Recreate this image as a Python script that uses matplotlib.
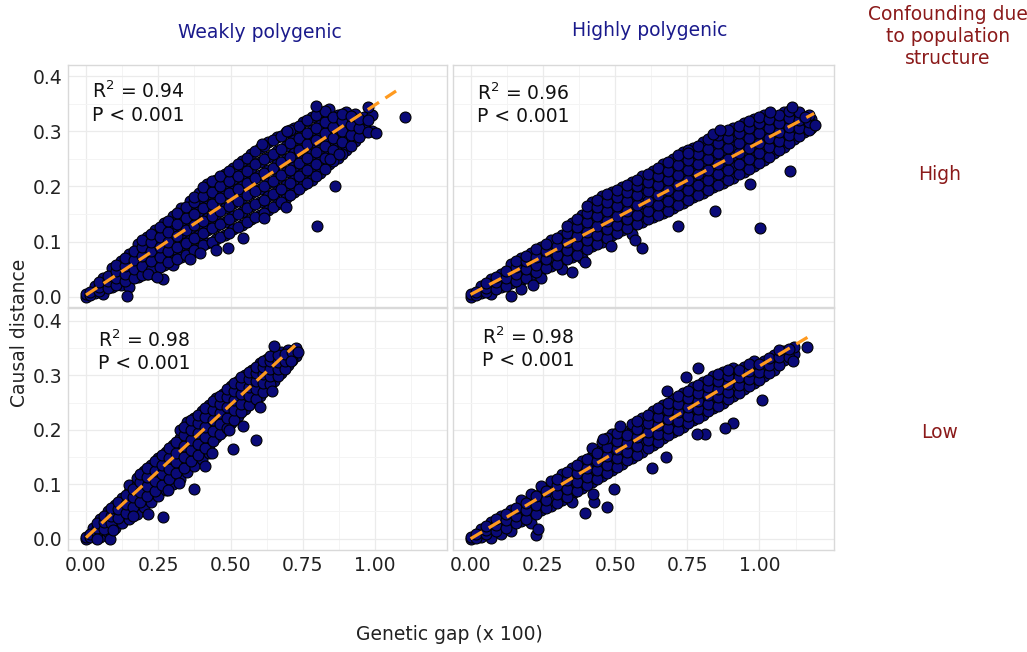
import matplotlib
matplotlib.use("Agg")
import matplotlib.pyplot as plt
import numpy as np

plt.rcParams['font.family'] = ['DejaVu Sans']
plt.rcParams['mathtext.default'] = 'regular'

# ---- data ----
# each panel: columns of the dense band (x, list of y), a second set of columns
# lying between them, and the stray points

# weakly polygenic, high confounding
tl_col_x = [0.00, 0.03, 0.06, 0.09, 0.12, 0.15, 0.18, 0.21, 0.24, 0.27, 0.30, 0.33,
            0.36, 0.39, 0.42, 0.45, 0.48, 0.51, 0.54, 0.57, 0.60, 0.63, 0.66, 0.69,
            0.72, 0.75, 0.78, 0.81, 0.84, 0.87, 0.90, 0.93, 0.96, 0.99]
tl_col_y = [[0.000, 0.004], [0.006, 0.014, 0.020], [0.012, 0.022, 0.034, 0.004],
            [0.017, 0.030, 0.041, 0.052], [0.022, 0.036, 0.050, 0.064],
            [0.030, 0.046, 0.060, 0.078, 0.018], [0.036, 0.054, 0.070, 0.088, 0.095],
            [0.042, 0.060, 0.078, 0.094, 0.108], [0.050, 0.068, 0.086, 0.104, 0.120, 0.040],
            [0.058, 0.078, 0.096, 0.114, 0.134], [0.066, 0.086, 0.106, 0.126, 0.146, 0.058],
            [0.072, 0.094, 0.116, 0.138, 0.160], [0.080, 0.102, 0.124, 0.146, 0.168, 0.174],
            [0.088, 0.112, 0.134, 0.156, 0.178, 0.188], [0.098, 0.120, 0.142, 0.164, 0.186, 0.204],
            [0.104, 0.128, 0.150, 0.172, 0.196, 0.212], [0.112, 0.136, 0.160, 0.184, 0.206, 0.222],
            [0.122, 0.146, 0.170, 0.192, 0.214, 0.234], [0.130, 0.154, 0.178, 0.200, 0.222, 0.246],
            [0.140, 0.164, 0.188, 0.210, 0.234, 0.258], [0.148, 0.172, 0.196, 0.220, 0.244, 0.270],
            [0.158, 0.182, 0.206, 0.230, 0.254, 0.280], [0.168, 0.192, 0.216, 0.240, 0.264, 0.290],
            [0.178, 0.202, 0.226, 0.250, 0.274, 0.298], [0.190, 0.212, 0.236, 0.260, 0.284, 0.306],
            [0.202, 0.224, 0.248, 0.270, 0.292, 0.316], [0.212, 0.236, 0.258, 0.280, 0.302, 0.326],
            [0.224, 0.246, 0.268, 0.290, 0.312, 0.334], [0.240, 0.260, 0.282, 0.302, 0.322, 0.340],
            [0.252, 0.274, 0.294, 0.314, 0.330], [0.266, 0.288, 0.306, 0.324, 0.334],
            [0.282, 0.302, 0.318, 0.332], [0.298, 0.312, 0.326], [0.300, 0.330]]
tl_mid_x = [0.015, 0.045, 0.075, 0.105, 0.135, 0.165, 0.195, 0.225, 0.255, 0.285, 0.315,
            0.345, 0.375, 0.405, 0.435, 0.465, 0.495, 0.525, 0.555, 0.585, 0.615, 0.645,
            0.675, 0.705, 0.735, 0.765, 0.795, 0.825, 0.855, 0.885, 0.915, 0.945, 0.975]
tl_mid_y = [[0.003, 0.009], [0.010, 0.018, 0.026], [0.016, 0.028, 0.038],
            [0.022, 0.034, 0.046, 0.058], [0.028, 0.042, 0.056, 0.070],
            [0.034, 0.050, 0.066, 0.082], [0.040, 0.056, 0.074, 0.090, 0.102],
            [0.048, 0.064, 0.082, 0.100, 0.114], [0.054, 0.072, 0.090, 0.108, 0.126],
            [0.062, 0.082, 0.100, 0.118, 0.138], [0.068, 0.090, 0.110, 0.132, 0.152],
            [0.076, 0.098, 0.120, 0.142, 0.162], [0.084, 0.106, 0.130, 0.150, 0.172, 0.180],
            [0.094, 0.116, 0.138, 0.160, 0.182, 0.198], [0.100, 0.124, 0.146, 0.168, 0.190, 0.210],
            [0.108, 0.132, 0.156, 0.178, 0.200, 0.218], [0.116, 0.140, 0.164, 0.188, 0.210, 0.228],
            [0.126, 0.150, 0.174, 0.196, 0.218, 0.240], [0.136, 0.160, 0.184, 0.206, 0.228, 0.252],
            [0.144, 0.168, 0.192, 0.216, 0.240, 0.264], [0.152, 0.176, 0.200, 0.224, 0.250, 0.274],
            [0.162, 0.186, 0.210, 0.234, 0.258, 0.284], [0.172, 0.196, 0.220, 0.244, 0.268, 0.292],
            [0.184, 0.206, 0.230, 0.254, 0.278, 0.302], [0.196, 0.218, 0.242, 0.266, 0.288, 0.310],
            [0.206, 0.230, 0.252, 0.276, 0.296, 0.320], [0.218, 0.240, 0.262, 0.284, 0.306, 0.330],
            [0.232, 0.252, 0.274, 0.296, 0.316, 0.336], [0.246, 0.266, 0.288, 0.308, 0.326],
            [0.258, 0.280, 0.300, 0.318, 0.332], [0.274, 0.294, 0.312, 0.328],
            [0.290, 0.306, 0.322], [0.298, 0.320]]
tl_out_x = [1.103, 0.798, 0.861, 0.794, 1.003, 0.974, 0.360, 0.492, 0.542, 0.267, 0.143,
            0.692, 0.616, 0.610, 0.696, 0.843, 0.875, 0.394, 0.449, 0.215, 0.245]
tl_out_y = [0.325, 0.129, 0.201, 0.346, 0.297, 0.343, 0.068, 0.089, 0.106, 0.032, 0.001,
            0.162, 0.142, 0.277, 0.300, 0.250, 0.258, 0.080, 0.085, 0.042, 0.036]

# highly polygenic, high confounding
tr_col_x = [0.000, 0.035, 0.070, 0.105, 0.140, 0.175, 0.210, 0.245, 0.280, 0.315, 0.350,
            0.385, 0.420, 0.455, 0.490, 0.525, 0.560, 0.595, 0.630, 0.665, 0.700, 0.735,
            0.770, 0.805, 0.840, 0.875, 0.910, 0.945, 0.980, 1.015, 1.050, 1.085, 1.120,
            1.155, 1.180]
tr_col_y = [[0.000, 0.004], [0.006, 0.013, 0.020], [0.012, 0.022, 0.032, 0.004],
            [0.018, 0.030, 0.042], [0.024, 0.038, 0.050, 0.060],
            [0.030, 0.046, 0.060, 0.070, 0.014], [0.040, 0.054, 0.068, 0.080],
            [0.048, 0.064, 0.078, 0.090, 0.034], [0.056, 0.072, 0.088, 0.102],
            [0.064, 0.080, 0.096, 0.112, 0.050], [0.072, 0.090, 0.106, 0.122, 0.134],
            [0.082, 0.098, 0.114, 0.132, 0.148, 0.070], [0.092, 0.108, 0.124, 0.142, 0.158, 0.172],
            [0.100, 0.116, 0.134, 0.152, 0.168, 0.182], [0.112, 0.126, 0.142, 0.160, 0.176, 0.190],
            [0.120, 0.136, 0.152, 0.170, 0.186, 0.198], [0.128, 0.144, 0.162, 0.180, 0.196, 0.208, 0.114],
            [0.136, 0.152, 0.170, 0.188, 0.204, 0.218], [0.144, 0.162, 0.180, 0.198, 0.214, 0.228],
            [0.152, 0.170, 0.190, 0.208, 0.224, 0.240], [0.160, 0.180, 0.198, 0.216, 0.234, 0.250],
            [0.170, 0.190, 0.208, 0.226, 0.244, 0.262], [0.180, 0.198, 0.218, 0.236, 0.254, 0.270],
            [0.188, 0.208, 0.226, 0.246, 0.264, 0.280], [0.198, 0.218, 0.236, 0.256, 0.274, 0.290],
            [0.206, 0.226, 0.246, 0.266, 0.284, 0.298], [0.216, 0.236, 0.256, 0.274, 0.292, 0.306],
            [0.226, 0.246, 0.266, 0.284, 0.300, 0.314], [0.236, 0.256, 0.274, 0.292, 0.310, 0.322],
            [0.248, 0.266, 0.284, 0.302, 0.318, 0.330], [0.260, 0.278, 0.294, 0.310, 0.326],
            [0.272, 0.288, 0.304, 0.318, 0.334], [0.286, 0.300, 0.314, 0.328],
            [0.298, 0.312, 0.326], [0.306, 0.322]]
tr_mid_x = [0.0175, 0.0525, 0.0875, 0.1225, 0.1575, 0.1925, 0.2275, 0.2625, 0.2975,
            0.3325, 0.3675, 0.4025, 0.4375, 0.4725, 0.5075, 0.5425, 0.5775, 0.6125,
            0.6475, 0.6825, 0.7175, 0.7525, 0.7875, 0.8225, 0.8575, 0.8925, 0.9275,
            0.9625, 0.9975, 1.0325, 1.0675, 1.1025, 1.1375, 1.1700]
tr_mid_y = [[0.003, 0.009], [0.008, 0.016, 0.024], [0.014, 0.026, 0.036],
            [0.020, 0.034, 0.046], [0.028, 0.042, 0.054, 0.064], [0.034, 0.050, 0.064, 0.074],
            [0.044, 0.058, 0.072, 0.086], [0.052, 0.068, 0.082, 0.096],
            [0.060, 0.076, 0.092, 0.106], [0.068, 0.084, 0.100, 0.116, 0.128],
            [0.076, 0.094, 0.110, 0.126, 0.140], [0.086, 0.102, 0.118, 0.136, 0.152, 0.164],
            [0.096, 0.112, 0.128, 0.146, 0.162, 0.176], [0.106, 0.122, 0.138, 0.156, 0.172, 0.186],
            [0.116, 0.130, 0.146, 0.164, 0.180, 0.194], [0.124, 0.140, 0.156, 0.174, 0.190, 0.202],
            [0.132, 0.148, 0.166, 0.184, 0.200, 0.212], [0.140, 0.156, 0.174, 0.192, 0.208, 0.222],
            [0.148, 0.166, 0.184, 0.202, 0.218, 0.234], [0.156, 0.174, 0.194, 0.212, 0.228, 0.244],
            [0.166, 0.184, 0.202, 0.220, 0.238, 0.256], [0.176, 0.194, 0.212, 0.230, 0.248, 0.266],
            [0.184, 0.202, 0.222, 0.240, 0.258, 0.274], [0.194, 0.212, 0.230, 0.250, 0.268, 0.286],
            [0.202, 0.222, 0.240, 0.260, 0.278, 0.294], [0.212, 0.230, 0.250, 0.270, 0.288, 0.302],
            [0.222, 0.240, 0.260, 0.278, 0.296, 0.310], [0.232, 0.250, 0.270, 0.288, 0.306, 0.318],
            [0.242, 0.260, 0.278, 0.296, 0.314, 0.326], [0.254, 0.272, 0.288, 0.306, 0.322],
            [0.266, 0.282, 0.298, 0.314, 0.330], [0.278, 0.294, 0.308, 0.324, 0.336],
            [0.292, 0.306, 0.320, 0.334], [0.302, 0.316, 0.330]]
tr_out_x = [1.002, 0.846, 1.106, 0.967, 0.592, 0.569, 0.719, 0.486, 0.350, 0.396, 0.140,
            0.217, 1.111, 1.192, 0.840, 0.865, 0.754, 1.158, 1.036]
tr_out_y = [0.124, 0.156, 0.228, 0.204, 0.089, 0.102, 0.129, 0.092, 0.045, 0.062, 0.002,
            0.021, 0.344, 0.312, 0.295, 0.302, 0.261, 0.326, 0.334]

# weakly polygenic, low confounding
bl_col_x = [0.000, 0.025, 0.050, 0.075, 0.100, 0.125, 0.150, 0.175, 0.200, 0.225, 0.250,
            0.275, 0.300, 0.325, 0.350, 0.375, 0.400, 0.425, 0.450, 0.475, 0.500, 0.525,
            0.550, 0.575, 0.600, 0.625, 0.650, 0.675, 0.700, 0.725]
bl_col_y = [[0.000, 0.003], [0.006, 0.014, 0.020], [0.014, 0.026, 0.036, 0.004],
            [0.024, 0.038, 0.050, 0.012], [0.034, 0.048, 0.062, 0.020],
            [0.044, 0.060, 0.074, 0.028], [0.054, 0.070, 0.086, 0.098, 0.036],
            [0.064, 0.082, 0.098, 0.112, 0.046], [0.074, 0.092, 0.108, 0.124, 0.058],
            [0.084, 0.102, 0.120, 0.136, 0.068], [0.094, 0.112, 0.130, 0.148, 0.078],
            [0.104, 0.124, 0.142, 0.160, 0.090], [0.116, 0.134, 0.154, 0.172, 0.100],
            [0.124, 0.146, 0.164, 0.184, 0.200, 0.110], [0.136, 0.156, 0.176, 0.196, 0.214, 0.122],
            [0.148, 0.168, 0.188, 0.206, 0.222, 0.134], [0.160, 0.180, 0.200, 0.218, 0.234, 0.146],
            [0.172, 0.192, 0.212, 0.230, 0.246, 0.158], [0.186, 0.204, 0.224, 0.242, 0.258],
            [0.198, 0.216, 0.236, 0.254, 0.266], [0.212, 0.228, 0.248, 0.266, 0.280],
            [0.226, 0.242, 0.260, 0.276, 0.290], [0.238, 0.254, 0.272, 0.288, 0.300],
            [0.252, 0.268, 0.284, 0.298, 0.310], [0.262, 0.280, 0.296, 0.310, 0.322],
            [0.276, 0.292, 0.308, 0.322, 0.330], [0.290, 0.304, 0.318, 0.332, 0.340],
            [0.304, 0.318, 0.330, 0.342], [0.318, 0.332, 0.346], [0.336, 0.350]]
bl_mid_x = [0.0125, 0.0375, 0.0625, 0.0875, 0.1125, 0.1375, 0.1625, 0.1875, 0.2125,
            0.2375, 0.2625, 0.2875, 0.3125, 0.3375, 0.3625, 0.3875, 0.4125, 0.4375,
            0.4625, 0.4875, 0.5125, 0.5375, 0.5625, 0.5875, 0.6125, 0.6375, 0.6625,
            0.6875, 0.7125]
bl_mid_y = [[0.003, 0.008], [0.010, 0.020, 0.028], [0.018, 0.030, 0.042],
            [0.028, 0.042, 0.056], [0.038, 0.054, 0.068], [0.048, 0.064, 0.080],
            [0.058, 0.076, 0.092, 0.042], [0.068, 0.086, 0.104, 0.118],
            [0.078, 0.096, 0.114, 0.130], [0.088, 0.106, 0.124, 0.142],
            [0.098, 0.118, 0.136, 0.154], [0.110, 0.128, 0.148, 0.166],
            [0.120, 0.140, 0.158, 0.178], [0.130, 0.150, 0.170, 0.190, 0.206],
            [0.142, 0.162, 0.182, 0.200, 0.218], [0.154, 0.174, 0.194, 0.212, 0.228],
            [0.166, 0.186, 0.206, 0.224, 0.240], [0.180, 0.198, 0.218, 0.236, 0.252],
            [0.192, 0.210, 0.230, 0.248, 0.262], [0.204, 0.222, 0.242, 0.260, 0.274],
            [0.218, 0.236, 0.254, 0.272, 0.286], [0.232, 0.248, 0.266, 0.282, 0.296],
            [0.246, 0.262, 0.278, 0.294, 0.306], [0.256, 0.274, 0.290, 0.304, 0.316],
            [0.270, 0.286, 0.302, 0.316, 0.326], [0.284, 0.298, 0.312, 0.326, 0.336],
            [0.298, 0.312, 0.324, 0.338], [0.312, 0.326, 0.340], [0.328, 0.342]]
bl_out_x = [0.265, 0.375, 0.510, 0.588, 0.542, 0.496, 0.213, 0.083, 0.037, 0.285, 0.322,
            0.435, 0.411, 0.602, 0.642, 0.651, 0.732, 0.708, 0.095]
bl_out_y = [0.040, 0.091, 0.165, 0.181, 0.207, 0.199, 0.045, 0.000, 0.000, 0.089, 0.103,
            0.158, 0.134, 0.241, 0.272, 0.354, 0.342, 0.327, 0.016]

# highly polygenic, low confounding
br_col_x = [0.000, 0.035, 0.070, 0.105, 0.140, 0.175, 0.210, 0.245, 0.280, 0.315, 0.350,
            0.385, 0.420, 0.455, 0.490, 0.525, 0.560, 0.595, 0.630, 0.665, 0.700, 0.735,
            0.770, 0.805, 0.840, 0.875, 0.910, 0.945, 0.980, 1.015, 1.050, 1.085, 1.120]
br_col_y = [[0.000, 0.003], [0.004, 0.012, 0.018], [0.010, 0.020, 0.030, 0.002],
            [0.018, 0.030, 0.042, 0.008], [0.024, 0.038, 0.052, 0.014],
            [0.032, 0.048, 0.062, 0.072], [0.042, 0.058, 0.072, 0.082, 0.028],
            [0.052, 0.068, 0.084, 0.096], [0.060, 0.078, 0.094, 0.106],
            [0.072, 0.088, 0.104, 0.118], [0.082, 0.098, 0.114, 0.130, 0.068],
            [0.094, 0.110, 0.126, 0.142], [0.104, 0.120, 0.136, 0.152, 0.166],
            [0.116, 0.132, 0.148, 0.164, 0.178], [0.126, 0.142, 0.158, 0.174, 0.192],
            [0.138, 0.154, 0.170, 0.186, 0.200], [0.148, 0.164, 0.180, 0.196, 0.210],
            [0.160, 0.176, 0.192, 0.208, 0.222], [0.172, 0.186, 0.202, 0.218, 0.234],
            [0.184, 0.198, 0.214, 0.230, 0.246], [0.196, 0.210, 0.226, 0.242, 0.256],
            [0.206, 0.220, 0.236, 0.252, 0.268], [0.218, 0.232, 0.246, 0.262, 0.278],
            [0.228, 0.244, 0.258, 0.274, 0.288], [0.240, 0.254, 0.268, 0.284, 0.298],
            [0.250, 0.264, 0.280, 0.294, 0.306], [0.262, 0.276, 0.290, 0.304, 0.314],
            [0.274, 0.288, 0.302, 0.316], [0.286, 0.300, 0.314, 0.326],
            [0.298, 0.312, 0.326], [0.310, 0.324, 0.338], [0.328, 0.344], [0.340, 0.352]]
br_mid_x = [0.0175, 0.0525, 0.0875, 0.1225, 0.1575, 0.1925, 0.2275, 0.2625, 0.2975,
            0.3325, 0.3675, 0.4025, 0.4375, 0.4725, 0.5075, 0.5425, 0.5775, 0.6125,
            0.6475, 0.6825, 0.7175, 0.7525, 0.7875, 0.8225, 0.8575, 0.8925, 0.9275,
            0.9625, 0.9975, 1.0325, 1.0675, 1.1025]
br_mid_y = [[0.002, 0.008], [0.008, 0.016, 0.024], [0.014, 0.026, 0.036],
            [0.020, 0.034, 0.046], [0.028, 0.042, 0.056], [0.036, 0.052, 0.066],
            [0.046, 0.062, 0.078], [0.056, 0.072, 0.088], [0.066, 0.082, 0.098, 0.110],
            [0.076, 0.092, 0.108, 0.122], [0.088, 0.104, 0.120, 0.136],
            [0.098, 0.114, 0.130, 0.146], [0.110, 0.126, 0.142, 0.158],
            [0.120, 0.136, 0.152, 0.168, 0.184], [0.132, 0.148, 0.164, 0.180, 0.194],
            [0.144, 0.160, 0.176, 0.190], [0.154, 0.170, 0.186, 0.202, 0.216],
            [0.166, 0.182, 0.196, 0.212, 0.228], [0.178, 0.192, 0.208, 0.224, 0.240],
            [0.190, 0.204, 0.220, 0.236, 0.250], [0.200, 0.216, 0.232, 0.248, 0.262],
            [0.212, 0.226, 0.242, 0.258, 0.272], [0.222, 0.238, 0.252, 0.268, 0.282],
            [0.234, 0.248, 0.264, 0.278, 0.292], [0.244, 0.260, 0.274, 0.290, 0.302],
            [0.256, 0.270, 0.284, 0.298, 0.310], [0.268, 0.282, 0.296, 0.310],
            [0.280, 0.294, 0.308, 0.320], [0.292, 0.306, 0.320], [0.304, 0.318, 0.332],
            [0.318, 0.334, 0.346], [0.334, 0.348]]
br_out_x = [1.166, 1.117, 1.008, 0.907, 0.880, 0.811, 0.783, 0.788, 0.746, 0.681, 0.627,
            0.676, 0.496, 0.471, 0.427, 0.396, 0.424, 0.225, 0.235, 0.517, 0.459]
br_out_y = [0.352, 0.326, 0.255, 0.212, 0.204, 0.192, 0.192, 0.314, 0.297, 0.272, 0.129,
            0.150, 0.091, 0.059, 0.067, 0.047, 0.083, 0.007, 0.018, 0.207, 0.183]

# regression lines (intercept, slope, end of line) and stats, order TL, TR, BL, BR
fit_intercept = [0.003, 0.004, 0.002, 0.000]
fit_slope = [0.345, 0.276, 0.488, 0.317]
fit_xmax = [1.072, 1.189, 0.723, 1.166]
r2_labels = ["0.94", "0.96", "0.98", "0.98"]

col_titles = ["Weakly polygenic", "Highly polygenic"]
row_titles = ["High", "Low"]
y_ticks = [0.0, 0.1, 0.2, 0.3, 0.4]
x_ticks = [0.0, 0.25, 0.5, 0.75, 1.0]

W, H = 1027, 652
fig = plt.figure(figsize=(W / 100, H / 100), dpi=100)

def fx(px):
    return px / W

def fy(py):
    return 1 - py / H

# axes boxes in pixels (left, top, right, bottom)
boxes = [(68.3, 65, 446.7, 307), (452.7, 65, 834, 307),
         (68.3, 308.3, 446.7, 550), (452.7, 308.3, 834, 550)]
xlims = [(-0.061, 1.247), (-0.062, 1.258), (-0.061, 1.247), (-0.062, 1.258)]
ylims = [(-0.0187, 0.42), (-0.0187, 0.42), (-0.0207, 0.423), (-0.0207, 0.423)]

panels = [(tl_col_x + tl_mid_x, tl_col_y + tl_mid_y, tl_out_x, tl_out_y),
          (tr_col_x + tr_mid_x, tr_col_y + tr_mid_y, tr_out_x, tr_out_y),
          (bl_col_x + bl_mid_x, bl_col_y + bl_mid_y, bl_out_x, bl_out_y),
          (br_col_x + br_mid_x, br_col_y + br_mid_y, br_out_x, br_out_y)]

# where the R2 / P text sits (pixels: left, centre of first line)
stat_pos = [(92, 91.7), (476.7, 93.3), (98.3, 340), (482.3, 337.3)]

for i, (cx, cy, ox, oy) in enumerate(panels):
    l, t, r, b = boxes[i]
    ax = fig.add_axes([fx(l), fy(b), fx(r) - fx(l), (b - t) / H])
    xs = [x for x, col in zip(cx, cy) for _ in col] + ox
    ys = [y for col in cy for y in col] + oy
    ax.scatter(xs, ys, s=62, c="#0a0a78", edgecolors="black", linewidths=0.8, zorder=3)

    lx = np.array([0.0, fit_xmax[i]])
    ax.plot(lx, fit_intercept[i] + fit_slope[i] * lx, color="#ff9a1f", lw=2.3,
            dashes=(4.2, 2.4), zorder=4)

    ax.set_xlim(*xlims[i])
    ax.set_ylim(*ylims[i])
    ax.set_xticks(x_ticks)
    ax.set_yticks(y_ticks)
    ax.set_xticks([0.125, 0.375, 0.625, 0.875, 1.125], minor=True)
    ax.set_yticks([0.05, 0.15, 0.25, 0.35], minor=True)
    ax.grid(True, which="major", color="#ebebeb", lw=0.9, zorder=0)
    ax.grid(True, which="minor", color="#f4f4f4", lw=0.7, zorder=0)
    ax.set_axisbelow(True)
    for sp in ax.spines.values():
        sp.set_color("#d9d9d9")
        sp.set_linewidth(1.0)
    ax.tick_params(which="both", length=0, labelsize=13.5, colors="#222222", pad=4)
    if i % 2 == 1:
        ax.set_yticklabels([])
    else:
        ax.set_yticklabels(["0.0", "0.1", "0.2", "0.3", "0.4"])
    if i < 2:
        ax.set_xticklabels([])
    else:
        ax.set_xticklabels(["0.00", "0.25", "0.50", "0.75", "1.00"])

    sx, sy = stat_pos[i]
    fig.text(fx(sx), fy(sy), "R$^2$ = " + r2_labels[i], fontsize=13.5, va="center",
             ha="left", color="#111111")
    fig.text(fx(sx), fy(sy + 23.5), "P < 0.001", fontsize=13.5, va="center",
             ha="left", color="#111111")

# column and row headings
fig.text(fx(260), fy(33), col_titles[0], fontsize=13.5, color="#1a1a8c", ha="center", va="center")
fig.text(fx(650), fy(30), col_titles[1], fontsize=13.5, color="#1a1a8c", ha="center", va="center")
fig.text(fx(948), fy(37), "Confounding due\nto population\nstructure", fontsize=13.5,
         color="#8b1a1a", ha="center", va="center", linespacing=1.2)
fig.text(fx(940), fy(174), row_titles[0], fontsize=13.5, color="#8b1a1a", ha="center", va="center")
fig.text(fx(940), fy(432), row_titles[1], fontsize=13.5, color="#8b1a1a", ha="center", va="center")

fig.text(fx(449), fy(634), "Genetic gap (x 100)", fontsize=13.5, color="#222222",
         ha="center", va="center")
fig.text(fx(20), fy(333), "Causal distance", fontsize=13.5, color="#222222",
         ha="center", va="center", rotation=90)

fig.savefig("out.png", dpi=100)
